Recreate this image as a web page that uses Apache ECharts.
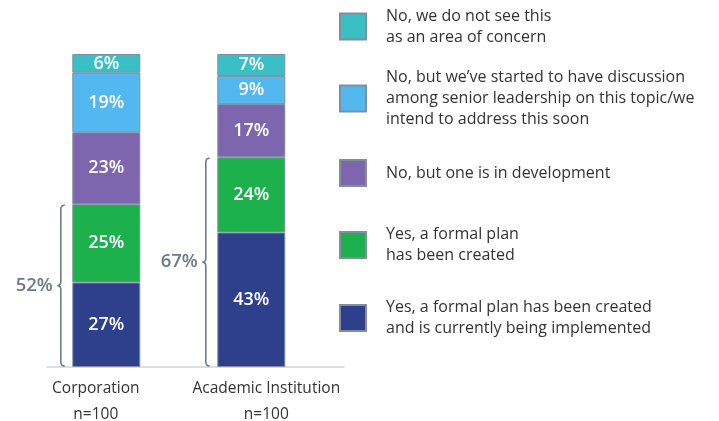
<!DOCTYPE html>
<html>
<head>
<meta charset="utf-8">
<script src="https://cdn.jsdelivr.net/npm/echarts@6/dist/echarts.min.js"></script>
<style>html,body{margin:0;padding:0;background:#fff}#c{width:719px;height:421px}</style>
</head>
<body>
<div id="c"></div>
<script>
const categories = ['Corporation', 'Academic Institution'];
const sampleSizes = ['n=100', 'n=100'];
const implemented = [27, 43];
const created = [25, 24];
const development = [23, 17];
const discussion = [19, 9];
const noConcern = [6, 7];
const yesTotals = [52, 67];

const names = {
  noConcern: 'No, we do not see this\nas an area of concern',
  discussion: 'No, but we\u2019ve started to have discussion\namong senior leadership on this topic/we\nintend to address this soon',
  development: 'No, but one is in development',
  created: 'Yes, a formal plan\nhas been created',
  implemented: 'Yes, a formal plan has been created\nand is currently being implemented'
};
const colors = {
  implemented: '#2e3f8c',
  created: '#1db14e',
  development: '#7e66ae',
  discussion: '#52b8ef',
  noConcern: '#3bbfc6'
};
const FONT = '"Open Sans", Lato, sans-serif';
const labelStyleKeys = ['a', 'b'];

function barSeries(key, data) {
  return {
    type: 'bar', name: names[key], stack: 'total', data: data,
    barWidth: 68, xAxisIndex: 0, yAxisIndex: 0,
    itemStyle: { color: colors[key], borderColor: '#7f8fa0', borderWidth: 1 },
    label: { show: true, position: 'inside', formatter: '{c}%', color: '#fff',
      fontFamily: FONT, fontSize: 18, fontWeight: 600 },
    emphasis: { disabled: true }
  };
}

const legendOrder = ['noConcern', 'discussion', 'development', 'created', 'implemented'];
const legendTops = [5.5, 67, 159, 224, 297];
const legends = legendOrder.map((k, i) => ({
  data: [names[k]], left: 339, top: legendTops[i], orient: 'vertical',
  itemWidth: 26, itemHeight: 26, padding: 0, selectedMode: false, icon: 'rect',
  textStyle: { fontFamily: FONT, fontSize: 16, lineHeight: 21, color: '#333', padding: [0, 0, 0, 15] }
}));

const catText = { fontFamily: FONT, fontSize: 15.5, lineHeight: 26, color: '#333' };

const chart = echarts.init(document.getElementById('c'), null, { renderer: 'canvas' });
chart.setOption({
  animation: false,
  legend: legends,
  grid: [
    { left: 33.8, right: 395.2, top: 54, bottom: 54, outerBoundsMode: 'none', containLabel: false },
    { left: 47, right: 375, top: 54, bottom: 54, outerBoundsMode: 'none', containLabel: false }
  ],
  xAxis: [
    { type: 'category', data: categories, gridIndex: 0,
      axisLine: { show: false }, axisTick: { show: false },
      axisLabel: { interval: 0, hideOverlap: false, margin: 9, fontFamily: FONT, fontSize: 15.5, lineHeight: 26, color: '#333',
        formatter: (v, i) => {
          const s = labelStyleKeys[i];
          return '{' + s + '|' + v + '}\n{' + s + '|' + sampleSizes[i] + '}';
        },
        rich: {
          a: Object.assign({ padding: [0, 21, 0, 0] }, catText),
          b: Object.assign({ padding: [0, 0, 0, 30] }, catText)
        } } },
    { type: 'value', gridIndex: 1, min: 0, max: 1,
      axisLine: { show: true, onZero: false, lineStyle: { color: '#d4d4d4', width: 1.5 } },
      axisTick: { show: false }, axisLabel: { show: false }, splitLine: { show: false } }
  ],
  yAxis: [
    { type: 'value', gridIndex: 0, min: 0, max: 100, show: false },
    { type: 'value', gridIndex: 1, min: 0, max: 1, show: false }
  ],
  series: [
    barSeries('implemented', implemented),
    barSeries('created', created),
    barSeries('development', development),
    barSeries('discussion', discussion),
    barSeries('noConcern', noConcern),
    {
      type: 'custom', name: 'brace', xAxisIndex: 0, yAxisIndex: 0,
      data: yesTotals.map((v, i) => [i, v]),
      renderItem: function (params, api) {
        const x = api.value(0), v = api.value(1);
        const top = api.coord([x, v]);
        const bot = api.coord([x, 0]);
        const lx = top[0] - 34 - 11.5;
        const y0 = top[1] + 1, y1 = bot[1] - 1;
        const mid = (y0 + y1) / 2;
        const r = 4;
        const path = `M${lx + r},${y0} Q${lx},${y0} ${lx},${y0 + r} L${lx},${mid - 4} Q${lx},${mid} ${lx - 3.5},${mid} Q${lx},${mid} ${lx},${mid + 4} L${lx},${y1 - r} Q${lx},${y1} ${lx + r},${y1}`;
        return {
          type: 'group',
          children: [
            { type: 'path', shape: { pathData: path },
              style: { fill: null, stroke: '#6d7d8d', lineWidth: 1.6 } },
            { type: 'text', x: lx - 8, y: mid,
              style: { text: v + '%', align: 'right', verticalAlign: 'middle',
                fontFamily: FONT, fontSize: 18.5, fontWeight: 600, fill: '#6b7b8b' } }
          ]
        };
      }
    }
  ]
});
</script>
</body>
</html>
